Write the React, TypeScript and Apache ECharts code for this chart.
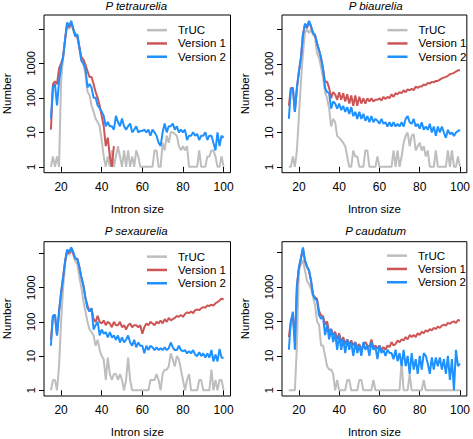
import React, { useEffect, useRef } from "react";
import * as echarts from "echarts";

// Intron sizes (x values)
const intronSize = [
  15, 16, 17, 18, 19, 20, 21, 22, 23, 24,
  25, 26, 27, 28, 29, 30, 31, 32, 33, 34,
  35, 36, 37, 38, 39, 40, 41, 42, 43, 44,
  45, 46, 47, 48, 49, 50, 51, 52, 53, 54,
  55, 56, 57, 58, 59, 60, 61, 62, 63, 64,
  65, 66, 67, 68, 69, 70, 71, 72, 73, 74,
  75, 76, 77, 78, 79, 80, 81, 82, 83, 84,
  85, 86, 87, 88, 89, 90, 91, 92, 93, 94,
  95, 96, 97, 98, 99, 100,
];

const xTicks = [20, 40, 60, 80, 100];
const yTickExponents = [0, 1, 2, 3, 4];
const yTickLabels = ["1", "10", "100", "1000", ""];
const seriesNames = ["TrUC", "Version 1", "Version 2"];
const panelTitles = ["P tetraurelia", "P biaurelia", "P sexaurelia", "P caudatum"];

// ---- P tetraurelia ----
const tetraTrUC = [
  1, 2, 1, 2, 1, 300, 1500, 5000, 12000, 10000,
  14000, 9000, 6000, 6000, 2500, 1200, 900, 500, 150, 120,
  60, 40, 25, 20, 15, 6, 2, 1, 2, 1,
  3, 1, 2, 4, 2, 1, 3, 1, 3, 1,
  2, 1, 3, 2, 1, 1, 1, 1, 1, 1,
  1, 3, 3, 1, 1, 5, 3, 8, 5, 10,
  10, 9, 8, 4, 3, 4, 3, 4, 1, 1,
  1, 1, 1, 3, 1, 1, 1, 2, 2, 3,
  3, 2, 1, 1, 2, 1,
];
const tetraV1 = [
  12, 250, 300, 250, 700, 1000, 1500, 5000, 15000, 11000,
  15000, 10000, 7000, 6000, 3000, 1500, 1300, 900, 600, 400,
  400, 250, 150, 100, 60, 30, 15, 4, 7, 2,
  1, 4, 0, 0, 0, 0, 0, 0, 0, 0,
  0, 0, 0, 0, 0, 0, 0, 0, 0, 0,
  0, 0, 0, 0, 0, 0, 0, 0, 0, 0,
  0, 0, 0, 0, 0, 0, 0, 0, 0, 0,
  0, 0, 0, 0, 0, 0, 0, 0, 0, 0,
  0, 0, 0, 0, 0, 0,
];
const tetraV2 = [
  25, 200, 250, 60, 300, 800, 1500, 5000, 15000, 12000,
  17000, 10000, 6000, 7000, 3000, 1200, 1000, 700, 200, 250,
  200, 100, 100, 60, 50, 40, 30, 15, 20, 15,
  15, 12, 30, 20, 15, 25, 15, 12, 15, 18,
  10, 12, 15, 10, 11, 11, 12, 10, 12, 8,
  12, 10, 8, 5, 4, 10, 18, 10, 15, 15,
  18, 12, 15, 10, 12, 10, 12, 6, 8, 8,
  10, 8, 9, 6, 8, 8, 10, 6, 8, 8,
  5, 3, 10, 4, 8, 7,
];

// ---- P biaurelia ----
const biaTrUC = [
  1, 1, 2, 1, 3, 30, 300, 2000, 8000, 10000,
  8000, 10000, 7000, 6000, 2000, 1500, 800, 400, 150, 100,
  50, 15, 25, 20, 8, 7, 6, 5, 4, 2,
  1, 1, 3, 2, 2, 1, 1, 1, 3, 3,
  1, 1, 1, 1, 2, 1, 1, 1, 1, 1,
  1, 1, 3, 1, 3, 1, 2, 5, 8, 10,
  4, 8, 9, 3, 4, 5, 3, 4, 2, 3,
  1, 1, 1, 3, 1, 1, 1, 1, 1, 3,
  1, 3, 1, 1, 2, 1,
];
const biaV1 = [
  60, 200, 200, 40, 200, 600, 1500, 7000, 14000, 11000,
  17000, 12000, 8000, 7000, 4000, 2500, 1500, 700, 300, 300,
  200, 100, 150, 130, 90, 150, 90, 140, 80, 130,
  70, 120, 60, 120, 60, 110, 70, 100, 70, 100,
  80, 100, 80, 90, 90, 100, 85, 110, 95, 110,
  100, 130, 110, 140, 130, 150, 140, 170, 150, 180,
  170, 190, 170, 220, 200, 220, 220, 250, 240, 280,
  270, 300, 290, 320, 320, 350, 380, 400, 420, 450,
  500, 520, 550, 600, 650, 650,
];
const biaV2 = [
  25, 180, 200, 40, 200, 600, 1500, 7000, 15000, 12000,
  18000, 13000, 8000, 7000, 4000, 2500, 1500, 700, 200, 150,
  140, 50, 80, 70, 50, 70, 45, 60, 40, 55,
  35, 55, 30, 40, 25, 40, 25, 35, 22, 30,
  20, 30, 20, 25, 22, 18, 25, 18, 20, 15,
  20, 15, 20, 15, 18, 15, 20, 15, 25, 30,
  20, 18, 25, 15, 18, 13, 20, 12, 15, 12,
  18, 10, 15, 8, 15, 10, 15, 10, 7, 12,
  9, 10, 8, 10, 11, 12,
];

// ---- P sexaurelia ----
const sexaTrUC = [
  1, 2, 2, 1, 5, 100, 1000, 5000, 12000, 9000,
  13000, 9000, 6000, 5000, 2000, 1000, 400, 200, 100, 60,
  50, 40, 20, 30, 15, 10, 8, 2, 9, 3,
  2, 3, 3, 2, 3, 2, 1, 2, 9, 2,
  1, 1, 1, 1, 1, 1, 1, 1, 1, 2,
  2, 2, 3, 2, 1, 3, 4, 4, 5, 12,
  8, 5, 10, 8, 4, 2, 1, 2, 3, 1,
  1, 1, 1, 2, 2, 1, 1, 1, 1, 4,
  1, 2, 1, 2, 2, 1,
];
const sexaV1 = [
  30, 150, 160, 40, 200, 700, 2000, 6000, 12000, 10000,
  14000, 10000, 7000, 7000, 4000, 2000, 1200, 500, 300, 200,
  250, 120, 100, 150, 100, 90, 110, 80, 100, 90,
  70, 100, 80, 80, 100, 70, 80, 60, 80, 90,
  70, 80, 80, 70, 80, 45, 70, 90, 80, 100,
  90, 80, 100, 90, 110, 90, 120, 100, 130, 110,
  120, 130, 150, 140, 160, 140, 170, 190, 180, 200,
  180, 220, 230, 220, 250, 270, 260, 300, 290, 320,
  300, 350, 380, 420, 480, 450,
];
const sexaV2 = [
  20, 150, 160, 40, 200, 700, 2000, 6000, 13000, 11000,
  15000, 11000, 7000, 7000, 4000, 2000, 1100, 500, 250, 200,
  250, 60, 80, 100, 40, 60, 45, 50, 35, 50,
  35, 40, 30, 40, 25, 35, 25, 30, 40, 25,
  20, 30, 18, 25, 20, 20, 12, 20, 15, 20,
  18, 15, 18, 15, 17, 15, 18, 15, 17, 25,
  18, 15, 15, 20, 15, 14, 15, 12, 14, 12,
  15, 11, 10, 13, 10, 12, 9, 12, 9, 15,
  7, 11, 7, 16, 9, 9,
];

// ---- P caudatum ----
const caudTrUC = [
  1, 1, 1, 1, 20, 3000, 4500, 6000, 3000, 1500,
  1200, 900, 500, 300, 100, 80, 20, 20, 10, 5,
  4, 4, 3, 1, 2, 1, 1, 1, 1, 2,
  2, 1, 1, 1, 1, 2, 2, 1, 1, 1,
  1, 1, 2, 1, 1, 1, 1, 1, 1, 1,
  1, 1, 1, 1, 1, 1, 7, 1, 1, 1,
  3, 1, 1, 1, 1, 1, 1, 2, 1, 1,
  1, 1, 1, 1, 1, 1, 1, 1, 1, 1,
  1, 1, 1, 1, 1, 1,
];
const caudV1 = [
  35, 100, 150, 30, 1000, 3500, 6500, 13000, 5500, 3800,
  3000, 1500, 600, 500, 450, 200, 150, 140, 80, 100,
  50, 60, 40, 50, 30, 45, 25, 35, 22, 30,
  22, 28, 20, 25, 18, 22, 15, 20, 25, 20,
  18, 30, 18, 20, 16, 20, 15, 18, 15, 20,
  18, 25, 20, 22, 28, 25, 30, 28, 35, 30,
  40, 35, 40, 35, 45, 40, 50, 45, 55, 50,
  60, 55, 65, 60, 70, 65, 75, 80, 75, 90,
  85, 95, 100, 90, 110, 105,
];
const caudV2 = [
  15, 100, 190, 15, 1100, 3700, 7000, 14000, 6000, 4000,
  3000, 1600, 600, 450, 400, 150, 120, 130, 40, 80,
  30, 60, 25, 45, 15, 40, 15, 30, 12, 30,
  15, 25, 10, 25, 12, 20, 10, 25, 15, 20,
  10, 25, 15, 18, 8, 20, 12, 15, 10, 15,
  12, 12, 8, 15, 7, 12, 5, 15, 5, 10,
  3, 12, 4, 8, 3, 10, 4, 12, 10, 6,
  3, 9, 4, 9, 5, 9, 4, 8, 3, 10,
  2, 8, 1, 15, 5, 6,
];

const panels = [
  [tetraTrUC, tetraV1, tetraV2],
  [biaTrUC, biaV1, biaV2],
  [sexaTrUC, sexaV1, sexaV2],
  [caudTrUC, caudV1, caudV2],
];

const COLORS = ["#BEBEBE", "#CD5555", "#1E90FF"];
const FONT = "Liberation Sans";

const GRIDS = [
  { left: 42, top: 15, width: 188.5, height: 157.7 },
  { left: 282, top: 15, width: 187.3, height: 157.7 },
  { left: 42, top: 241.7, width: 188.5, height: 156.7 },
  { left: 282, top: 241.7, width: 187.3, height: 156.7 },
];
const TITLE_TOP = [0, 0, 225, 225];
const LEGEND_POS = [
  { left: 147, top: 23.5 },
  { left: 387.5, top: 23.5 },
  { left: 147, top: 250 },
  { left: 387, top: 249 },
];

function buildOption() {
  const xMin0 = Math.min(...intronSize);
  const xMax0 = Math.max(...intronSize);
  const xPad = (xMax0 - xMin0) * 0.04;

  const grid: any[] = [];
  const xAxis: any[] = [];
  const yAxis: any[] = [];
  const series: any[] = [];
  const title: any[] = [];
  const legend: any[] = [];

  panels.forEach((panel, i) => {
    const g = GRIDS[i];
    grid.push({
      ...g,
      show: true,
      borderColor: "#000",
      borderWidth: 1,
      backgroundColor: "transparent",
      containLabel: false,
    });
    const allVals = panel.flat().filter((v) => v > 0);
    const M = Math.log10(Math.max(...allVals));
    const m = Math.log10(Math.min(...allVals));
    const yPad = (M - m) * 0.04;

    xAxis.push({
      type: "value",
      gridIndex: i,
      min: xMin0 - xPad,
      max: xMax0 + xPad,
      axisLine: { show: false },
      splitLine: { show: false },
      axisTick: {
        show: true,
        customValues: xTicks,
        length: 5,
        lineStyle: { color: "#000", width: 1 },
      },
      axisLabel: {
        customValues: xTicks,
        color: "#000",
        fontSize: 12,
        fontFamily: FONT,
        margin: 8,
      },
      name: "Intron size",
      nameLocation: "middle",
      nameGap: 30,
      nameTextStyle: { color: "#000", fontSize: 11.5, fontFamily: FONT },
    });
    yAxis.push({
      type: "value",
      gridIndex: i,
      min: m - yPad,
      max: M + yPad,
      axisLine: { show: false },
      splitLine: { show: false },
      axisTick: {
        show: true,
        customValues: yTickExponents,
        length: 5,
        lineStyle: { color: "#000", width: 1 },
      },
      axisLabel: {
        customValues: yTickExponents,
        rotate: 90,
        color: "#000",
        fontSize: 11,
        fontFamily: FONT,
        margin: 8,
        formatter: (v: number) => {
          const idx = yTickExponents.indexOf(Math.round(v));
          return idx >= 0 ? yTickLabels[idx] : "";
        },
      },
      name: "Number",
      nameLocation: "middle",
      nameGap: 31,
      nameTextStyle: { color: "#000", fontSize: 11.5, fontFamily: FONT },
    });

    panel.forEach((vals, s) => {
      series.push({
        type: "line",
        name: seriesNames[s],
        xAxisIndex: i,
        yAxisIndex: i,
        showSymbol: false,
        symbol: "none",
        connectNulls: false,
        lineStyle: { color: COLORS[s], width: 2 },
        itemStyle: { color: COLORS[s] },
        z: 2 + s,
        data: intronSize.map((x, k) => [x, vals[k] > 0 ? Math.log10(vals[k]) : null]),
      });
    });

    title.push({
      text: panelTitles[i],
      left: g.left + g.width / 2,
      top: TITLE_TOP[i],
      textAlign: "center",
      padding: 0,
      textStyle: {
        fontFamily: FONT,
        fontSize: 11.5,
        fontStyle: "italic",
        fontWeight: "normal",
        color: "#000",
      },
    });

    legend.push({
      orient: "vertical",
      left: LEGEND_POS[i].left,
      top: LEGEND_POS[i].top,
      padding: 0,
      itemGap: 0,
      itemWidth: 20,
      itemHeight: 2.5,
      icon: "rect",
      selectedMode: false,
      data: seriesNames,
      textStyle: {
        fontFamily: FONT,
        fontSize: 11.5,
        color: "#000",
        lineHeight: 13.3,
        padding: [0, 0, 0, 6],
      },
    });
  });

  return {
    animation: false,
    backgroundColor: "#fff",
    textStyle: { fontFamily: FONT },
    title,
    legend,
    grid,
    xAxis,
    yAxis,
    series,
  };
}

export default function App() {
  const ref = useRef<HTMLDivElement>(null);
  useEffect(() => {
    if (!ref.current) return;
    const chart = echarts.init(ref.current, null, { renderer: "svg" });
    chart.setOption(buildOption() as any);
    return () => chart.dispose();
  }, []);
  return (
    <div
      ref={ref}
      style={{ position: "absolute", left: 0, top: 0, width: 473, height: 439 }}
    />
  );
}
